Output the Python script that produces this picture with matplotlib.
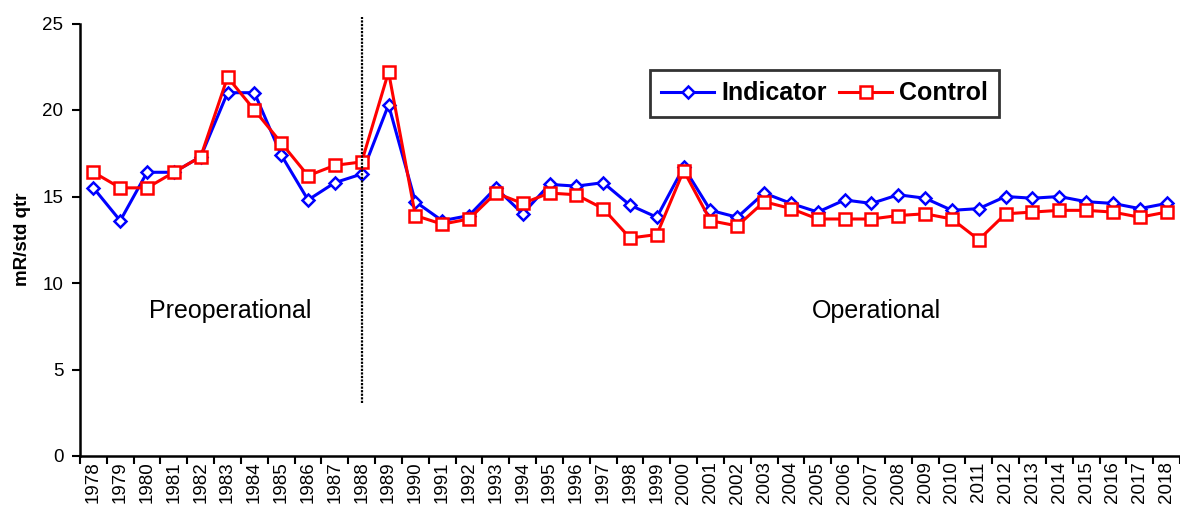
import matplotlib
matplotlib.use("Agg")
import matplotlib.pyplot as plt
import numpy as np

plt.rcParams["font.family"] = ["Liberation Sans", "DejaVu Sans"]

years = [str(y) for y in range(1978, 2019)]
indicator = [15.5, 13.6, 16.4, 16.4, 17.3, 21.0, 21.0, 17.4, 14.8, 15.8,
             16.3, 20.3, 14.7, 13.6, 13.9, 15.5, 14.0, 15.7, 15.6, 15.8,
             14.5, 13.8, 16.7, 14.2, 13.8, 15.2, 14.6, 14.1, 14.8, 14.6,
             15.1, 14.9, 14.2, 14.3, 15.0, 14.9, 15.0, 14.7, 14.6, 14.3, 14.6]
control = [16.4, 15.5, 15.5, 16.4, 17.3, 21.9, 20.0, 18.1, 16.2, 16.8,
           17.0, 22.2, 13.9, 13.4, 13.7, 15.2, 14.6, 15.2, 15.1, 14.3,
           12.6, 12.8, 16.5, 13.6, 13.3, 14.7, 14.3, 13.7, 13.7, 13.7,
           13.9, 14.0, 13.7, 12.5, 14.0, 14.1, 14.2, 14.2, 14.1, 13.8, 14.1]
split_year = "1988"

fig = plt.figure(figsize=(11.8, 5.12), dpi=100)
ax = fig.add_axes([80 / 1180, 1 - 456 / 512, 1100 / 1180, 432.5 / 512])

x = np.arange(len(years))
ax.plot(x, indicator, color="#0000ff", lw=2.2, marker="D", ms=6.5,
        mfc="white", mec="#0000ff", mew=1.8, label="Indicator", zorder=3)
ax.plot(x, control, color="#ff0000", lw=2.2, marker="s", ms=8.5,
        mfc="white", mec="#ff0000", mew=1.8, label="Control", zorder=3)

# dotted divider between preoperational and operational periods
xs = years.index(split_year)
ax.plot([xs, xs], [3.05, 25.4], color="black", lw=1.6, ls=(0, (1, 0.6)),
        clip_on=False, zorder=4)

ax.set_xlim(-0.5, len(years) - 0.5)
ax.set_ylim(0, 25)
ax.set_yticks([0, 5, 10, 15, 20, 25])
ax.set_xticks(x)
ax.set_xticklabels(years, rotation=90, fontsize=13.5)
ax.set_xticks(np.arange(-0.5, len(years)), minor=True)
ax.tick_params(axis="x", which="major", length=0, pad=4)
ax.tick_params(axis="x", which="minor", length=6, width=1.5, direction="out")
ax.tick_params(axis="y", labelsize=13.5, length=6, width=1.5, direction="out",
               pad=6)

for s in ("top", "right"):
    ax.spines[s].set_visible(False)
for s in ("left", "bottom"):
    ax.spines[s].set_linewidth(1.8)

ax.set_ylabel("mR/std qtr", fontsize=13.5, fontweight="bold", labelpad=8)

ax.text(5.1, 8.4, "Preoperational", fontsize=18, ha="center", va="center")
ax.text(29.2, 8.4, "Operational", fontsize=18, ha="center", va="center")

leg = ax.legend(loc="upper left", bbox_to_anchor=(570 / 1100, (456 - 70) / 432.5),
                ncol=2, prop={"weight": "bold", "size": 18},
                frameon=True, fancybox=False, edgecolor="black",
                handlelength=2.1, columnspacing=0.5, handletextpad=0.3,
                borderpad=0.45, borderaxespad=0)
leg.get_frame().set_linewidth(2)

fig.savefig("out.png", dpi=100)
